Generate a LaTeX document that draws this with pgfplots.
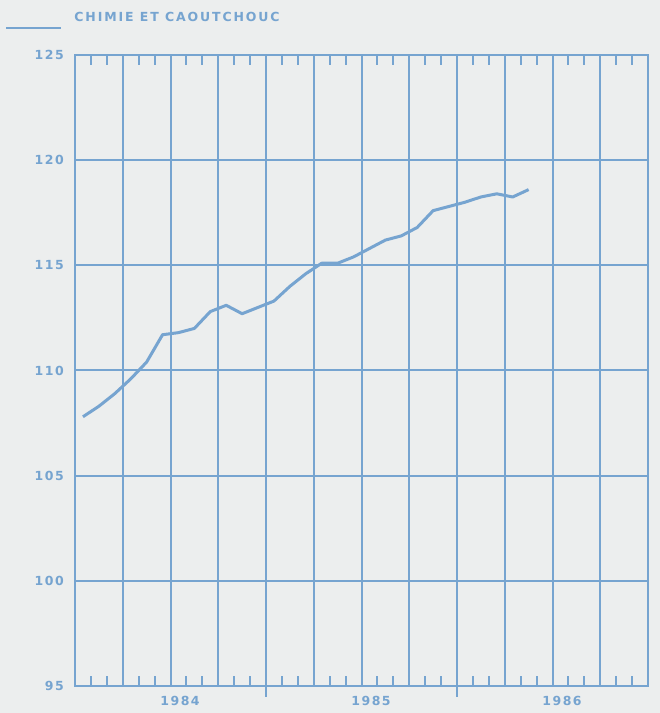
\documentclass[border=0pt]{standalone}
\usepackage{fontspec}
\usepackage{pgfplots}
\pgfplotsset{compat=1.18}
\usetikzlibrary{backgrounds}
\newfontfamily\plotfont[LetterSpace=12]{DejaVu Sans}
\newfontfamily\titlefont[LetterSpace=15]{DejaVu Sans}
\definecolor{bl}{RGB}{118,164,208}
\definecolor{bg}{RGB}{236,238,238}
\begin{document}
\begin{tikzpicture}[show background rectangle, inner frame sep=0pt,
  background rectangle/.style={fill=bg, draw=none}]
\begin{axis}[
  scale only axis, width=573bp, height=631bp,
  xmin=0, xmax=36, ymin=95, ymax=125,
  clip=false,
  axis line style={bl, line width=2.2bp},
  xtick={3,6,...,33}, xticklabel=\empty,
  minor xtick={1,2,4,5,7,8,10,11,13,14,16,17,19,20,22,23,25,26,28,29,31,32,34,35},
  extra x ticks={6.6,18.6,30.6},
  extra x tick labels={1984,1985,1986},
  extra x tick style={grid=none, major tick length=0pt},
  ytick={95,100,...,125},
  grid=major,
  major grid style={bl, line width=2bp},
  major tick length=0pt, minor tick length=10bp,
  every tick/.style={bl, line width=2bp},
  tick align=inside, xtick pos=both, ytick pos=left, xticklabel pos=lower,
  /pgf/number format/assume math mode=true,
  tick label style={font=\plotfont\bfseries\fontsize{12.5bp}{14bp}\selectfont, text=bl},
  yticklabel style={inner sep=0pt, xshift=-11bp},
  xticklabel style={inner sep=0pt, yshift=-10bp},
  legend style={at={(axis description cs:-0.1222,1.072)}, anchor=north west,
    draw=none, fill=none, inner sep=0pt,
    font=\titlefont\bfseries\fontsize{12.5bp}{14bp}\selectfont, text=bl},
  legend image code/.code={\draw[bl, line width=2.4bp] (0bp,-11bp) -- (55bp,-11bp); \path[draw=none] (0bp,0bp) -- (66bp,0bp);},
]
\addplot[bl, line width=3bp, line join=round] coordinates {
 (0.5,107.8) (1.5,108.3) (2.5,108.9) (3.5,109.6) (4.5,110.4) (5.5,111.7)
 (6.5,111.8) (7.5,112.0) (8.5,112.8) (9.5,113.1) (10.5,112.7) (11.5,113.0)
 (12.5,113.3) (13.5,114.0) (14.5,114.6) (15.5,115.1) (16.5,115.1) (17.5,115.4)
 (18.5,115.8) (19.5,116.2) (20.5,116.4) (21.5,116.8) (22.5,117.6) (23.5,117.8)
 (24.5,118.0) (25.5,118.25) (26.5,118.4) (27.5,118.25) (28.5,118.6)
};
\addlegendentry{CHIMIE ET CAOUTCHOUC}
\draw[bl, line width=2bp] (axis cs:12,95) -- ++(0pt,-11bp);
\draw[bl, line width=2bp] (axis cs:24,95) -- ++(0pt,-11bp);
\coordinate (O) at (rel axis cs:0,0);
\end{axis}
\path (O) ++(-75bp,-27bp) rectangle ++(660bp,713bp);
\end{tikzpicture}
\end{document}
